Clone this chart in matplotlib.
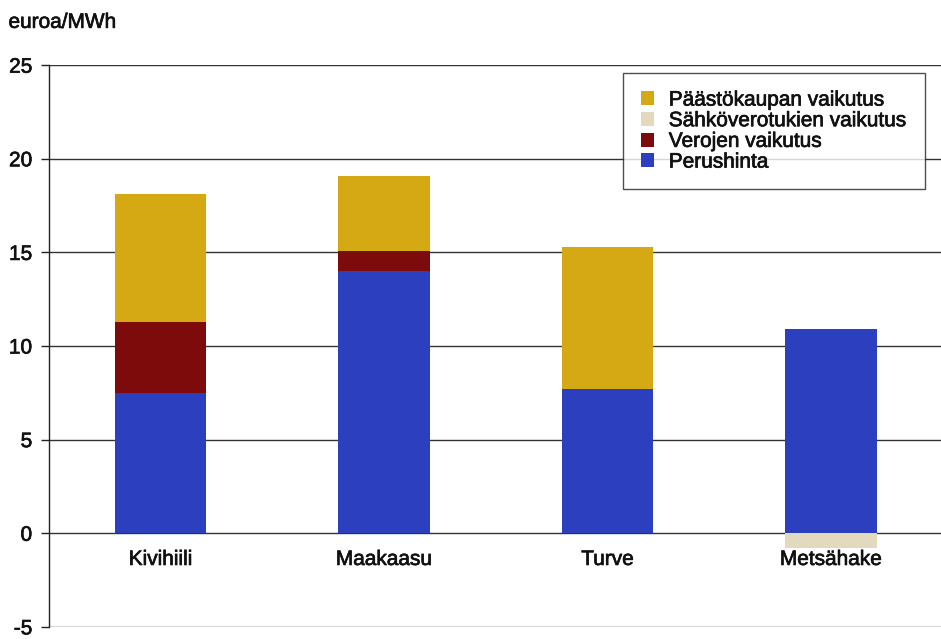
import matplotlib
matplotlib.use("Agg")
import matplotlib.pyplot as plt
import matplotlib.patheffects as pe
import numpy as np

plt.rcParams['font.family'] = ['Liberation Sans', 'DejaVu Sans']

categories = ["Kivihiili", "Maakaasu", "Turve", "Metsähake"]
perushinta = [7.5, 14.0, 7.7, 10.9]
verojen_vaikutus = [3.8, 1.1, 0.0, 0.0]
paastokaupan_vaikutus = [6.8, 4.0, 7.6, 0.0]
sahkoverotukien_vaikutus = [0.0, 0.0, 0.0, -0.8]

y_ticks = [-5, 0, 5, 10, 15, 20, 25]

c_yellow = "#d4a913"
c_beige = "#e3d9bf"
c_red = "#7d0b0b"
c_blue = "#2c3fbf"

# slightly heavier text strokes
heavy = [pe.withStroke(linewidth=0.5, foreground='#111111')]

fig = plt.figure(figsize=(9.41, 6.39), dpi=100)
ax = fig.add_axes([0.052, 0.019, 0.95, 0.879])

x = np.arange(len(categories))
w = 0.41
base = np.array(perushinta)
red = np.array(verojen_vaikutus)
yel = np.array(paastokaupan_vaikutus)
neg = np.array(sahkoverotukien_vaikutus)

h_blue = ax.bar(x, base, w, color=c_blue, zorder=3)
h_red = ax.bar(x, red, w, bottom=base, color=c_red, zorder=3)
h_yel = ax.bar(x, yel, w, bottom=base + red, color=c_yellow, zorder=3)
h_beige = ax.bar(x, neg, w, color=c_beige, zorder=3)

ax.set_xlim(-0.5, len(categories) - 0.5)
ax.set_ylim(-5, 25)
ax.set_yticks(y_ticks)
ax.set_yticklabels([str(t) for t in y_ticks], fontsize=15, color='#111111')
for lbl in ax.get_yticklabels():
    lbl.set_path_effects(heavy)
ax.tick_params(axis='y', length=6, width=1, color='#222222', pad=6)
ax.set_xticks([])

for t in y_ticks:
    ax.axhline(t, color='#333333', lw=1.0, zorder=1)

for s in ['top', 'right', 'bottom']:
    ax.spines[s].set_visible(False)
ax.spines['left'].set_color('#222222')
ax.spines['left'].set_linewidth(1.0)

for xi, name in zip(x, categories):
    ax.text(xi, -1.4, name, ha='center', va='center', fontsize=15,
            color='#111111', path_effects=heavy)

fig.text(0.009, 0.965, "euroa/MWh", ha='left', va='center', fontsize=15,
         color='#111111', path_effects=heavy)

leg = fig.legend([h_yel, h_beige, h_red, h_blue],
                 ["Päästökaupan vaikutus", "Sähköverotukien vaikutus",
                  "Verojen vaikutus", "Perushinta"],
                 loc='upper left', bbox_to_anchor=(0.662, 0.886),
                 fontsize=15, frameon=True, fancybox=False,
                 handlelength=0.65, handleheight=0.65, handletextpad=0.7,
                 labelspacing=0.08, borderpad=0.85, borderaxespad=0)
leg.get_frame().set_edgecolor('#222222')
leg.get_frame().set_linewidth(1.0)
for txt in leg.get_texts():
    txt.set_color('#111111')
    txt.set_path_effects(heavy)

fig.savefig("out.png", dpi=100)
